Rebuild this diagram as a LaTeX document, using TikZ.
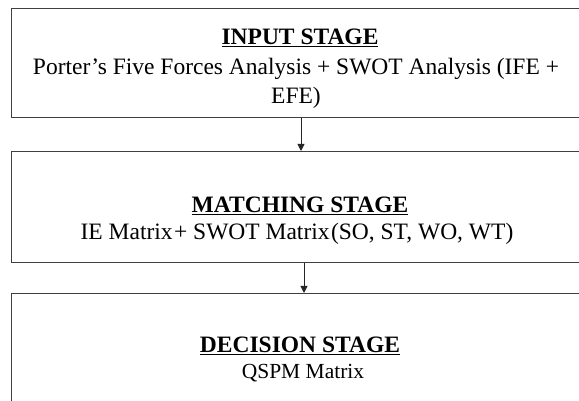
\documentclass[tikz,border=0pt]{standalone}
\usepackage{fontspec}
\setmainfont{Liberation Serif}
\usetikzlibrary{arrows.meta}
\begin{document}
\begin{tikzpicture}[x=1pt,y=1pt,
  stagebox/.style={draw=black!75, line width=1.4pt, minimum width=620pt, anchor=north west, inner sep=0pt},
  stagetitle/.style={font=\fontsize{23.5}{28}\selectfont\bfseries, inner sep=0pt, anchor=base},
  stagetext/.style={font=\fontsize{23.5}{29}\selectfont, inner sep=0pt, anchor=base, align=center},
  link/.style={draw=black!85, line width=0.9pt, -{Triangle[length=7pt,width=7pt]}}]
\useasboundingbox (0,0) rectangle (579,401);
\clip (0,0) rectangle (579,401);
\node[stagebox, minimum height=109pt] (b1) at (11,393) {};
\node[stagebox, minimum height=111pt] (b2) at (11,250) {};
\node[stagebox, minimum height=140pt] (b3) at (11,108) {};
\node[stagetitle] (t1) at (300,356) {\underline{INPUT STAGE}};
\node[stagetext] (d1) at (296,297) {Porter’s Five Forces Analysis + SWOT Analysis (IFE +\\EFE)};
\node[stagetitle] (t2) at (300,188) {\underline{MATCHING STAGE}};
\node[stagetext] (d2) at (297,161) {IE Matrix\hspace{0.06em}+ SWOT Matrix\hspace{0.06em}(SO, ST, WO, WT)};
\node[stagetitle] (t3) at (300,48) {\underline{DECISION STAGE}};
\node[stagetext, font=\fontsize{21.5}{26}\selectfont] (d3) at (303,22) {QSPM Matrix};
\coordinate (ax1) at (301,0);
\coordinate (ax2) at (304,0);
\draw[link] (b1.south -| ax1) -- (b2.north -| ax1);
\draw[link] (b2.south -| ax2) -- (b3.north -| ax2);
\end{tikzpicture}
\end{document}
